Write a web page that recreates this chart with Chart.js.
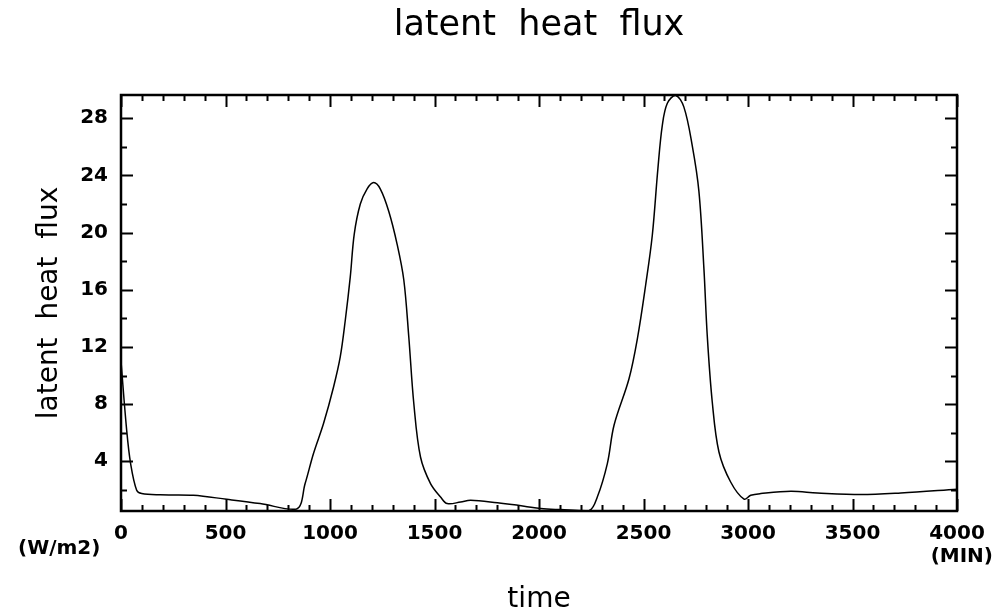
<!DOCTYPE html>
<html>
<head>
<meta charset="utf-8">
<script src="https://cdn.jsdelivr.net/npm/chart.js@4"></script>
<style>
  html, body { margin: 0; padding: 0; background: #fff; }
  #wrap { width: 1005px; height: 613px; }
</style>
</head>
<body>
<div id="wrap"><canvas id="g-flux" width="1005" height="613"></canvas></div>
<script>
// time (MIN) and latent heat flux (W/m2)
var tiempo = [0, 27, 46, 75, 99, 187, 346, 506, 666, 840, 881, 921, 969, 1017, 1049, 1073, 1097, 1116, 1145, 1177, 1209, 1241, 1281, 1321, 1353, 1377, 1401, 1433, 1481, 1529, 1561, 1625, 1673, 1801, 1929, 2008, 2103, 2240, 2279, 2327, 2359, 2431, 2471, 2510, 2542, 2569, 2590, 2614, 2654, 2693, 2733, 2765, 2789, 2805, 2829, 2861, 2917, 2981, 3013, 3061, 3205, 3332, 3540, 3731, 4000];
var flujo = [11.0, 6.2, 3.84, 1.97, 1.74, 1.65, 1.62, 1.34, 1.04, 0.66, 2.44, 4.54, 6.64, 9.2, 11.3, 13.85, 16.9, 19.9, 22.0, 23.05, 23.5, 23.05, 21.5, 19.2, 16.7, 12.7, 8.04, 4.3, 2.44, 1.5, 1.04, 1.15, 1.27, 1.09, 0.86, 0.69, 0.62, 0.55, 1.5, 3.84, 6.52, 9.79, 12.6, 16.3, 19.8, 24.5, 27.5, 29.05, 29.6, 28.8, 26.1, 22.9, 17.5, 12.8, 8.15, 4.65, 2.55, 1.35, 1.62, 1.74, 1.9, 1.78, 1.67, 1.78, 2.04];

var xTicks = [0, 500, 1000, 1500, 2000, 2500, 3000, 3500, 4000];
var yTicks = [4, 8, 12, 16, 20, 24, 28];
var xMinorStep = 100;
var yMinorStep = 2;

var puntos = tiempo.map(function (t, i) { return { x: t, y: flujo[i] }; });

// frame, inward ticks and loose labels
var marco = {
  id: 'marco',
  afterDatasetsDraw: function (chart) {
    var ctx = chart.ctx, a = chart.chartArea;
    var sx = chart.scales.x, sy = chart.scales.y;
    ctx.save();
    ctx.strokeStyle = '#000';
    ctx.lineWidth = 2;
    // minor + major ticks x (bottom and top)
    for (var v = sx.min; v <= sx.max; v += xMinorStep) {
      var px = Math.round(sx.getPixelForValue(v)) + 0.5;
      var len = (v % 500 === 0) ? 12 : 6;
      ctx.beginPath();
      ctx.moveTo(px, a.bottom); ctx.lineTo(px, a.bottom - len);
      ctx.moveTo(px, a.top); ctx.lineTo(px, a.top + len);
      ctx.stroke();
    }
    // minor + major ticks y (left and right)
    for (var w = 2; w <= sy.max; w += yMinorStep) {
      var py = Math.round(sy.getPixelForValue(w)) + 0.5;
      var l2 = (w % 4 === 0) ? 12 : 6;
      ctx.beginPath();
      ctx.moveTo(a.left, py); ctx.lineTo(a.left + l2, py);
      ctx.moveTo(a.right, py); ctx.lineTo(a.right - l2, py);
      ctx.stroke();
    }
    ctx.lineWidth = 2.5;
    ctx.strokeRect(a.left, a.top, a.right - a.left, a.bottom - a.top);

    ctx.fillStyle = '#000';
    ctx.textBaseline = 'middle';
    ctx.textAlign = 'center';
    ctx.font = '35px "DejaVu Sans"';
    ctx.fillText('latent  heat  flux', (a.left + a.right) / 2, 26);
    ctx.font = 'bold 20px "DejaVu Sans"';
    ctx.textAlign = 'left';
    ctx.fillText('(W/m2)', 18, 549);
    ctx.textAlign = 'right';
    ctx.fillText('(MIN)', 993, 557);
    ctx.restore();
  }
};

var idhtml = document.getElementById('g-flux').getContext('2d');
var g_flujo = new Chart(idhtml, {
  type: 'line',
  data: {
    datasets: [{
      label: 'latent heat flux',
      data: puntos,
      borderColor: '#000',
      borderWidth: 1.5,
      pointRadius: 0,
      fill: false,
      tension: 0.35
    }]
  },
  options: {
    responsive: false,
    animation: false,
    layout: { padding: { top: 95, right: 48, left: 0, bottom: 0 } },
    plugins: { legend: { display: false }, tooltip: { enabled: false }, title: { display: false } },
    scales: {
      x: {
        type: 'linear',
        min: 0,
        max: 4000,
        afterBuildTicks: function (s) { s.ticks = xTicks.map(function (v) { return { value: v }; }); },
        afterFit: function (s) { s.height = 102; },
        grid: { display: false, drawTicks: false },
        border: { display: false },
        ticks: {
          color: '#000', padding: 11, maxRotation: 0, autoSkip: false,
          font: { family: 'DejaVu Sans', size: 20, weight: 'bold' },
          callback: function (v) { return String(v); }
        },
        title: { display: true, text: 'time', color: '#000', padding: { top: 0, bottom: -4 }, font: { family: 'DejaVu Sans', size: 28 } }
      },
      y: {
        min: 0.52,
        max: 29.63,
        afterBuildTicks: function (s) { s.ticks = yTicks.map(function (v) { return { value: v }; }); },
        afterFit: function (s) { s.width = 121; },
        grid: { display: false, drawTicks: false },
        border: { display: false },
        ticks: { color: '#000', padding: 13, font: { family: 'DejaVu Sans', size: 20, weight: 'bold' } },
        title: { display: true, text: 'latent  heat  flux', color: '#000', padding: { top: 33, bottom: 0 }, font: { family: 'DejaVu Sans', size: 28 } }
      }
    }
  },
  plugins: [marco]
});
</script>
</body>
</html>
